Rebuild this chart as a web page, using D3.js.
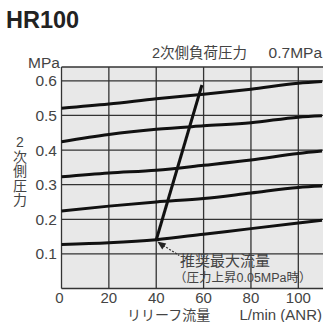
<!DOCTYPE html>
<html><head><meta charset="utf-8">
<script src="https://cdn.jsdelivr.net/npm/d3@7"></script>
<style>
html,body{margin:0;padding:0;background:#fff;}
svg{display:block;font-family:"Liberation Sans","Noto Sans CJK JP",sans-serif;}
</style></head><body>
<svg id="c" width="323" height="322"></svg>
<script>
const title = "HR100";
const flowTicks = [0, 20, 40, 60, 80, 100];
const pressureTicks = [0.1, 0.2, 0.3, 0.4, 0.5, 0.6];
const flow = [0, 20, 40, 60, 80, 100, 110];
const curve1 = [0.521, 0.533, 0.548, 0.561, 0.576, 0.593, 0.598];
const curve2 = [0.424, 0.445, 0.460, 0.470, 0.479, 0.495, 0.499];
const curve3 = [0.323, 0.334, 0.342, 0.356, 0.371, 0.390, 0.397];
const curve4 = [0.224, 0.238, 0.250, 0.260, 0.276, 0.292, 0.296];
const curve5 = [0.127, 0.132, 0.141, 0.157, 0.173, 0.189, 0.197];
const maxFlowLineX = [40, 59.3];
const maxFlowLineY = [0.14, 0.588];
const loadLabelA = "2次側負荷圧力";
const loadLabelB = "0.7MPa";
const yTitleChars = ["2", "次", "側", "圧", "力"];
const xTitleA = "リリーフ流量";
const xTitleB = "L/min (ANR)";
const note1 = "推奨最大流量";
const note2 = "（圧力上昇0.05MPa時）";

const svg = d3.select("#c");
const x = d3.scaleLinear().domain([0, 110]).range([61.5, 322]);
const y = d3.scaleLinear().domain([0, 0.64]).range([288.5, 67]);

// title
svg.append("text").attr("x", 6).attr("y", 28).attr("font-size", 23.5).attr("font-weight", "bold")
  .attr("fill", "#222").text(title);

// plot background
svg.append("rect").attr("x", x(0)).attr("y", y(0.64)).attr("width", 323 - x(0)).attr("height", y(0) - y(0.64))
  .attr("fill", "#e8e8e8");

// grid
const g = svg.append("g").attr("stroke", "#333").attr("stroke-width", 1.3);
flowTicks.slice(1).forEach(v => g.append("line").attr("x1", x(v)).attr("x2", x(v)).attr("y1", y(0.64)).attr("y2", y(0)));
pressureTicks.forEach(v => g.append("line").attr("x1", x(0)).attr("x2", 323).attr("y1", y(v)).attr("y2", y(v)));
g.append("line").attr("x1", x(0)).attr("x2", x(0)).attr("y1", y(0.64)).attr("y2", y(0));
g.append("line").attr("x1", x(0)).attr("x2", 323).attr("y1", y(0.64)).attr("y2", y(0.64));
g.append("line").attr("x1", x(0)).attr("x2", 323).attr("y1", y(0)).attr("y2", y(0));

// curves
const line = d3.line().x(d => x(d[0])).y(d => y(d[1])).curve(d3.curveMonotoneX);
[curve1, curve2, curve3, curve4, curve5].forEach(c => {
  svg.append("path").attr("d", line(flow.map((f, i) => [f, c[i]])))
    .attr("fill", "none").attr("stroke", "#111").attr("stroke-width", 3);
});
svg.append("path").attr("d", d3.line().x(d => x(d[0])).y(d => y(d[1]))(maxFlowLineX.map((v, i) => [v, maxFlowLineY[i]])))
  .attr("fill", "none").attr("stroke", "#111").attr("stroke-width", 3);

// annotation arrow
const ax = x(40) + 1, ay = y(0.136);
svg.append("line").attr("x1", ax + 6).attr("y1", ay + 4).attr("x2", ax + 22).attr("y2", ay + 14)
  .attr("stroke", "#333").attr("stroke-width", 1.2).attr("stroke-dasharray", "2,1.5");
svg.append("path").attr("d", `M${ax},${ay} L${ax + 9},${ay + 2} L${ax + 5},${ay + 8} Z`).attr("fill", "#222");

// labels
const tc = "#444";
const fs = 15.5;
svg.selectAll(".yt").data(pressureTicks).join("text").attr("x", 57).attr("y", d => y(d) + 5.5)
  .attr("text-anchor", "end").attr("font-size", fs).attr("fill", tc).text(d => d.toFixed(1));
svg.selectAll(".xt").data(flowTicks).join("text").attr("x", d => x(d) - (d === 0 ? 2 : 0)).attr("y", 302.5)
  .attr("text-anchor", "middle").attr("font-size", 15).attr("fill", tc).text(d => d);
svg.append("text").attr("x", 28).attr("y", 68).attr("font-size", fs).attr("fill", tc).text("MPa");
svg.append("text").attr("x", 152).attr("y", 58).attr("font-size", 14.5).attr("fill", tc).text(loadLabelA);
svg.append("text").attr("x", 322).attr("y", 58).attr("text-anchor", "end").attr("font-size", fs).attr("fill", tc).text(loadLabelB);
svg.selectAll(".ytc").data(yTitleChars).join("text").attr("x", 20).attr("y", (d, i) => 147 + i * 14.6)
  .attr("text-anchor", "middle").attr("font-size", 14).attr("fill", tc).text(d => d);
svg.append("text").attr("x", 127).attr("y", 320).attr("font-size", 14).attr("fill", tc).text(xTitleA);
svg.append("text").attr("x", 322).attr("y", 320).attr("text-anchor", "end").attr("font-size", 15).attr("fill", tc).text(xTitleB);
svg.append("text").attr("x", 180).attr("y", 266).attr("font-size", 15).attr("fill", "#444").text(note1);
svg.append("text").attr("x", 174).attr("y", 282).attr("font-size", 12.5).attr("fill", "#444").text(note2);
</script>
</body></html>
